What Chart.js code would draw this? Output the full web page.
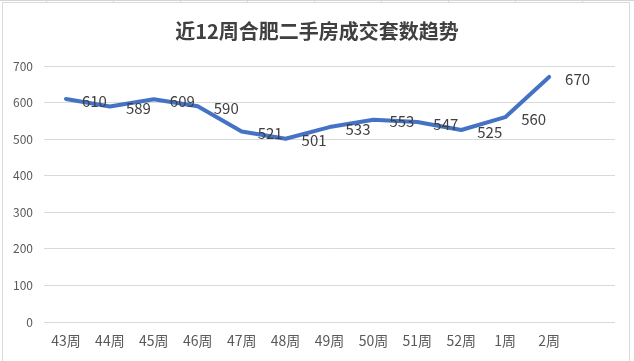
<!DOCTYPE html>
<html>
<head>
<meta charset="utf-8">
<script src="https://cdn.jsdelivr.net/npm/chart.js@4"></script>
<style>
  html, body { margin: 0; padding: 0; background: #fff; }
  #wrap { width: 634px; height: 361px; position: relative; }
</style>
</head>
<body>
<div id="wrap"><canvas id="chart" width="634" height="361"></canvas></div>
<script>
// chart data
const titleText = '近12周合肥二手房成交套数趋势';
const weeks = ['43周','44周','45周','46周','47周','48周','49周','50周','51周','52周','1周','2周',''];
const deals = [610, 589, 609, 590, 521, 501, 533, 553, 547, 525, 560, 670, null];
const yTicks = [0, 100, 200, 300, 400, 500, 600, 700];

const FONT = '"Noto Sans CJK SC", "Noto Sans", sans-serif';

// frame + title + point labels drawn on canvas
const decor = {
  id: 'decor',
  beforeDraw(chart) {
    const c = chart.ctx;
    c.save();
    c.fillStyle = '#fff';
    c.fillRect(0, 0, chart.width, chart.height);
    // spreadsheet grid peeking above the chart
    c.strokeStyle = '#D4D4D4';
    c.lineWidth = 1;
    c.beginPath();
    c.moveTo(0, 0.5); c.lineTo(634, 0.5);
    for (let x = 46; x < 634; x += 67) { c.moveTo(x + 0.5, 0); c.lineTo(x + 0.5, 3); }
    c.stroke();
    c.strokeStyle = '#D9D9D9';
    c.strokeRect(2.5, 2.5, 627, 370);
    c.restore();
  },
  afterDraw(chart) {
    const c = chart.ctx;
    c.save();
    c.fillStyle = '#404040';
    c.font = 'bold 20px ' + FONT;
    c.textAlign = 'center';
    c.textBaseline = 'middle';
    c.fillText(titleText, 317, 31);

    c.font = '15px ' + FONT;
    c.textAlign = 'left';
    c.fillStyle = '#404040';
    chart.getDatasetMeta(0).data.forEach((pt, i) => {
      if (deals[i] == null) return;
      c.fillText(String(deals[i]), pt.x + 16, pt.y + 2);
    });
    c.restore();
  }
};

new Chart(document.getElementById('chart'), {
  type: 'line',
  data: {
    labels: weeks,
    datasets: [{
      data: deals,
      borderColor: '#4472C4',
      borderWidth: 4,
      borderCapStyle: 'round',
      borderJoinStyle: 'round',
      pointRadius: 0,
      tension: 0,
      fill: false
    }]
  },
  options: {
    responsive: false,
    animation: false,
    layout: { padding: { top: 66, right: 19, bottom: 0, left: 0 } },
    plugins: { legend: { display: false }, tooltip: { enabled: false }, title: { display: false } },
    scales: {
      x: {
        offset: true,
        grid: { display: false },
        border: { display: false },
        ticks: { color: '#595959', font: { size: 14, family: FONT }, padding: 2, maxRotation: 0, autoSkip: false },
        afterFit(s) { s.height = 39; }
      },
      y: {
        min: 0, max: 700,
        afterBuildTicks(s) { s.ticks = yTicks.map(v => ({ value: v })); },
        grid: { color: '#D9D9D9', lineWidth: 1, drawTicks: false },
        border: { display: false },
        ticks: { color: '#595959', font: { size: 12, family: FONT }, padding: 11 },
        afterFit(s) { s.width = 44; }
      }
    }
  },
  plugins: [decor]
});
</script>
</body>
</html>
